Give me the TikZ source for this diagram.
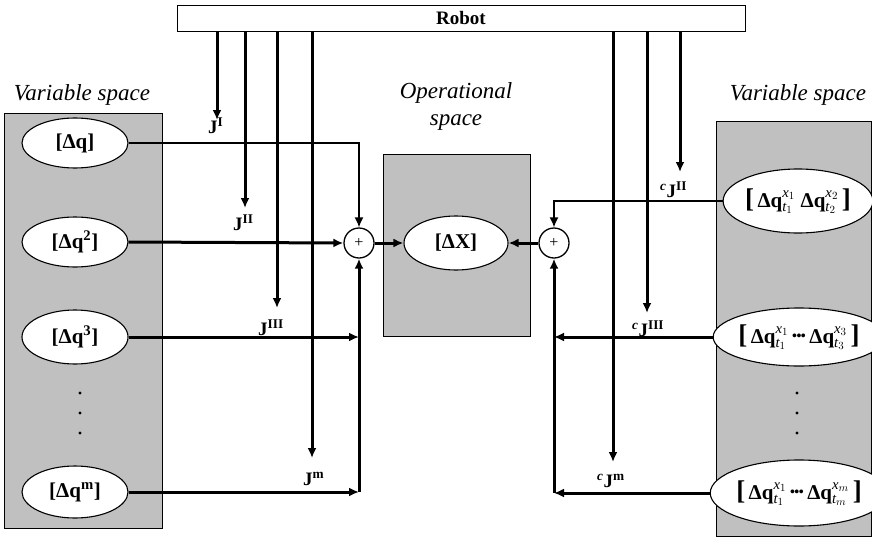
\documentclass[tikz,border=0pt]{standalone}
\usepackage{amsmath}
\usepackage{fontspec}
\setmainfont{Liberation Serif}
\usetikzlibrary{arrows.meta,shapes.geometric}
\definecolor{boxgray}{RGB}{192,192,192}
\newcommand\Jl[1]{J\textsuperscript{#1}}
\newcommand\cJl[1]{\textsuperscript{\itshape c}J\textsuperscript{#1}}
\newcommand\dq[2]{Δq$^{\textit{\mdseries x}_{#1}}_{\textit{\mdseries t}_{#2}}$}
\newcommand\brL{{\fontsize{27}{27}\selectfont[}}
\newcommand\brR{{\fontsize{27}{27}\selectfont]}}
\newcommand\bdots{\raisebox{0.3ex}{\fontsize{14}{14}\selectfont•\kern-0.5pt•\kern-0.5pt•}}
\tikzset{
  spacebox/.style={draw=black, line width=0.9pt, fill=boxgray, inner sep=0pt, anchor=north west},
  varell/.style={ellipse, draw=black, line width=1.1pt, fill=white, inner sep=0pt,
    font=\fontsize{21}{22}\selectfont\bfseries},
  sumnode/.style={circle, draw=black, line width=1.3pt, fill=white, minimum size=30pt,
    inner sep=0pt, font=\fontsize{16}{16}\selectfont},
  bigarrow/.style={line width=3pt, -{Latex[length=10pt,width=9pt]}},
  thinarrow/.style={line width=1.5pt, -{Latex[length=10pt,width=9pt]}},
  jlabel/.style={font=\fontsize{19}{20}\selectfont\bfseries, inner sep=0pt, anchor=base west},
  spacelabel/.style={font=\fontsize{23}{27}\selectfont\itshape, align=center, inner sep=0pt},
}
\begin{document}
\begin{tikzpicture}[x=1pt,y=-1pt]
\useasboundingbox (0,0) rectangle (872,538);
% space boxes
\node[spacebox, minimum width=158pt, minimum height=415pt] (lbox) at (4,113) {};
\node[spacebox, minimum width=147pt, minimum height=182pt] (obox) at (383,154) {};
\node[spacebox, minimum width=155pt, minimum height=415pt] (rbox) at (716,121) {};
% space labels
\node[spacelabel] (lvs) at (82,95) {Variable space};
\node[spacelabel] (ops) at (456,106) {Operational\\space};
\node[spacelabel] (rvs) at (798,95) {Variable space};
% robot
\node[draw=black, line width=1pt, fill=white, minimum width=568pt, minimum height=26pt,
  inner sep=0pt, font=\fontsize{19}{20}\selectfont\bfseries] (robot) at (461,18) {Robot};
% left ellipses
\node[varell, minimum width=106pt, minimum height=50pt] (e1) at (75,143) {[Δq]};
\node[varell, minimum width=106pt, minimum height=50pt] (e2) at (75,242) {[Δq\textsuperscript{2}]};
\node[varell, minimum width=106pt, minimum height=54pt] (e3) at (75,337) {[Δq\textsuperscript{3}]};
\node[varell, minimum width=106pt, minimum height=52pt] (em) at (75,492) {[Δq\textsuperscript{m}]};
% operational
\node[varell, minimum width=104pt, minimum height=54pt] (dx) at (456,243) {[ΔX]};
% right ellipses
\node[varell, minimum width=120pt, minimum height=64pt] (r1) at (798,201) {\brL\,\dq{1}{1}\ \dq{2}{2}\,\brR};
\node[varell, minimum width=134pt, minimum height=58pt] (r2) at (799,337) {\brL\,\dq{1}{1}\,\bdots\,\dq{3}{3}\,\brR};
\node[varell, minimum width=134pt, minimum height=66pt] (rm) at (799,493) {\brL\,\dq{1}{1}\,\bdots\,\dq{m}{m}\,\brR};
% sums
\node[sumnode] (sL) at (359,243) {+};
\node[sumnode] (sR) at (554,243) {+};
% dots
\foreach \yy in {393,413,433} {\fill (80,\yy) circle (1.7pt); \fill (797,\yy) circle (1.7pt);}
% jacobian arrow tips
\coordinate (tI) at (217,120);
\coordinate (tII) at (245,208);
\coordinate (tIII) at (277,308);
\coordinate (tm) at (312,458);
\coordinate (cII) at (680,172);
\coordinate (cIII) at (647,313);
\coordinate (cm) at (613,462);
\foreach \t in {tI,tII,tIII,tm,cII,cIII,cm} {\draw[bigarrow] (robot.south -| \t) -- (\t);}
% jacobian labels
\node[jlabel] (lI) at (208,133) {\Jl{I}};
\node[jlabel] (lII) at (233,230) {\Jl{II}};
\node[jlabel] (lIII) at (258,335) {\Jl{III}};
\node[jlabel] (lm) at (303,485) {\Jl{m}};
\node[jlabel] (lcII) at (660,197) {\cJl{II}};
\node[jlabel] (lcIII) at (632,336) {\cJl{III}};
\node[jlabel] (lcm) at (597,487) {\cJl{m}};
% left connections
\coordinate (bL) at (359,492);
\draw[thinarrow] (e1.east) -- (e1.east -| sL.north) -- (sL.north);
\draw[bigarrow] (e2.east) -- (sL.west);
\draw[bigarrow] (e3.east) -- (e3.east -| bL);
\draw[bigarrow] (em.east) -- (bL);
\draw[bigarrow] (bL) -- (sL.south);
\draw[bigarrow] (sL.east) -- (dx.west);
% right connections
\coordinate (bR) at (554,493);
\draw[thinarrow] (r1.west) -- (r1.west -| sR.north) -- (sR.north);
\draw[bigarrow] (r2.west) -- (r2.west -| bR);
\draw[bigarrow] (rm.west) -- (bR);
\draw[bigarrow] (bR) -- (sR.south);
\draw[bigarrow] (sR.west) -- (dx.east);
\end{tikzpicture}
\end{document}
